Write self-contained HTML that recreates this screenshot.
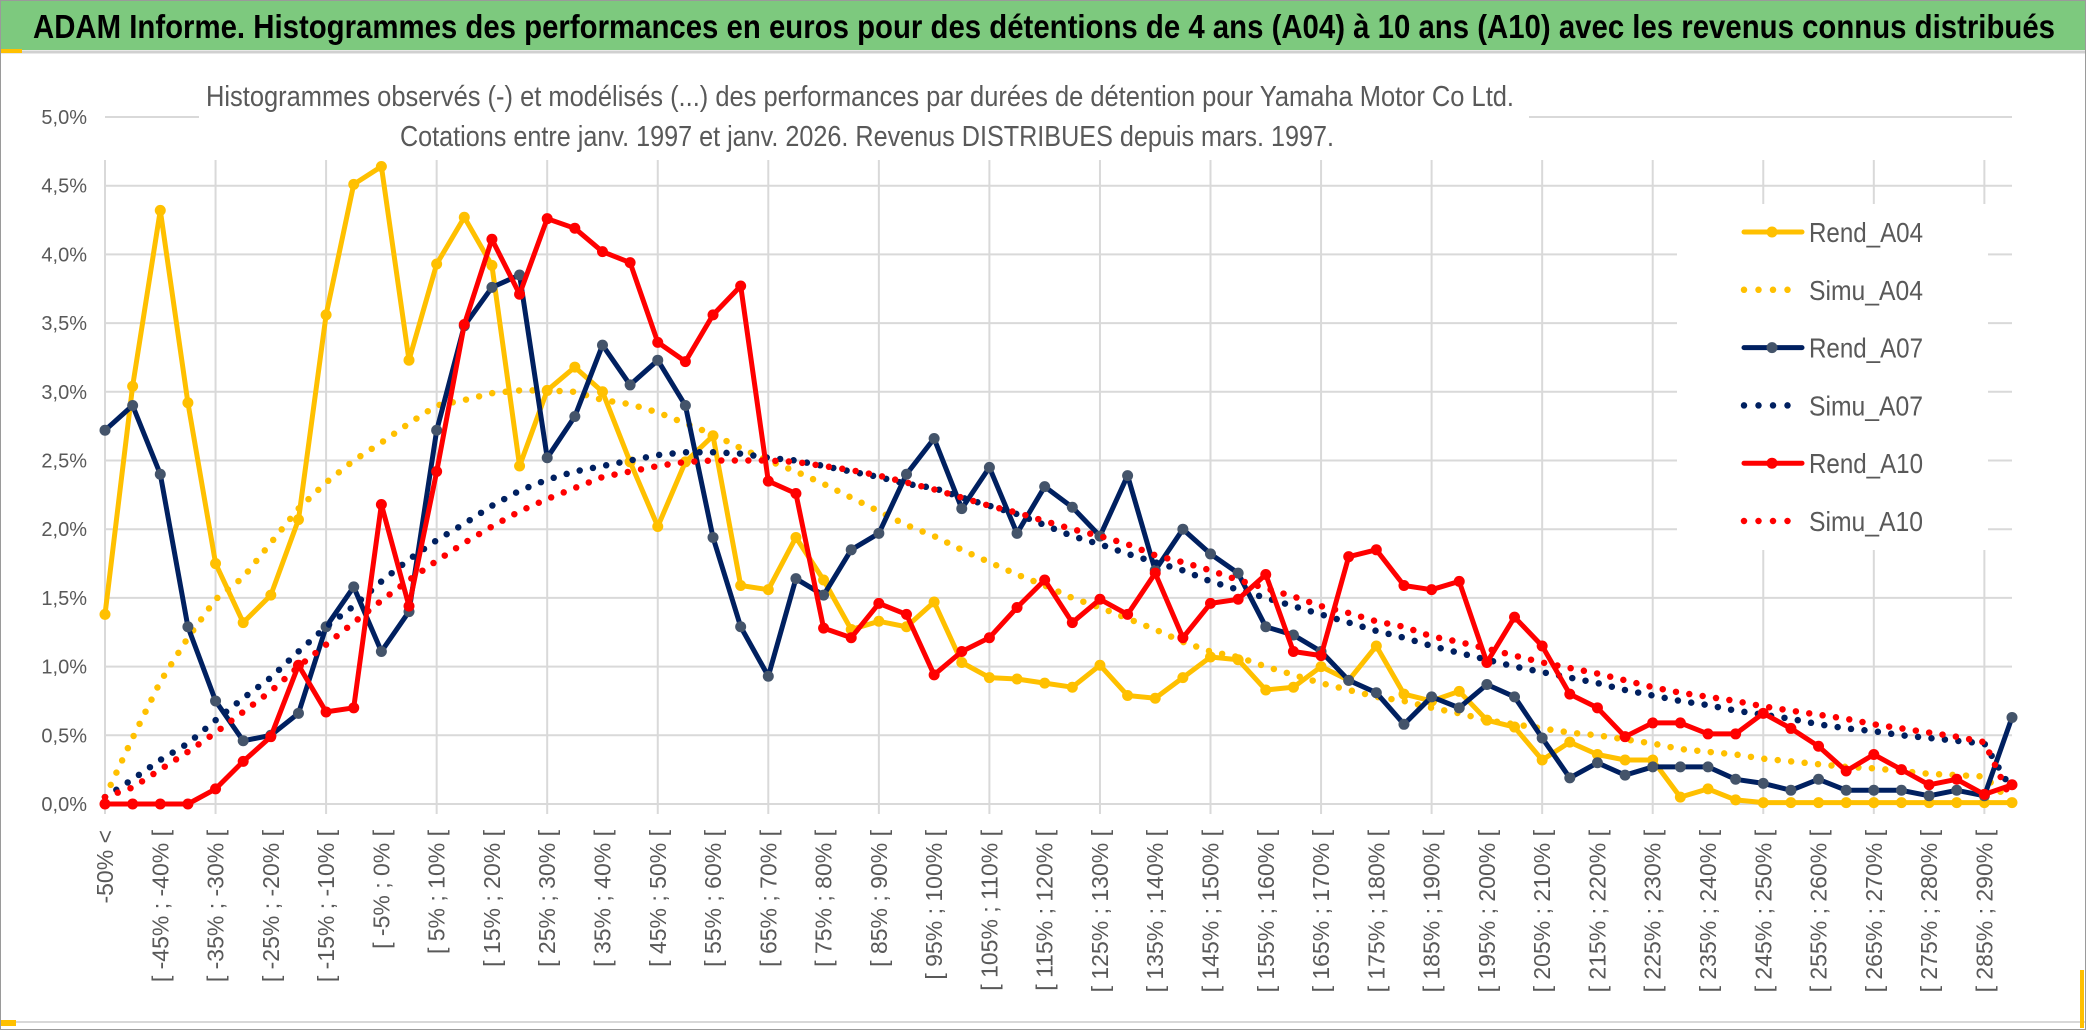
<!DOCTYPE html>
<html><head><meta charset="utf-8">
<style>
html,body{margin:0;padding:0;background:#fff;}
svg{display:block;font-family:"Liberation Sans",Arial,sans-serif;}
</style></head>
<body>
<svg id="chart" width="2086" height="1031" viewBox="0 0 2086 1031" xmlns="http://www.w3.org/2000/svg">
  <rect x="0" y="0" width="2086" height="1031" fill="#ffffff"/>
  <rect x="0" y="0" width="2086" height="50" fill="#7dc97e"/>
  <line x1="0" y1="52" x2="2086" y2="52" stroke="#d0d0d0" stroke-width="3"/>
  <rect x="0" y="49" width="22" height="4" fill="#ffc000"/>
  <text x="33" y="38" font-size="33" font-weight="bold" fill="#000" textLength="2022" lengthAdjust="spacingAndGlyphs">ADAM Informe. Histogrammes des performances en euros pour des détentions de 4 ans (A04) à 10 ans (A10) avec les revenus connus distribués</text>
  <g id="grid"></g>
  <rect x="199" y="60" width="1330" height="100" fill="#ffffff"/>
  <text x="206" y="106" font-size="29" fill="#595959" textLength="1308" lengthAdjust="spacingAndGlyphs">Histogrammes observés (-) et modélisés (...) des performances par durées de détention pour Yamaha Motor Co Ltd.</text>
  <text x="400" y="146" font-size="29" fill="#595959" textLength="934" lengthAdjust="spacingAndGlyphs">Cotations entre janv. 1997 et janv. 2026. Revenus DISTRIBUES depuis mars. 1997.</text>
  <g id="yaxis"></g>
  <g id="xaxis"></g>
  <rect x="1677" y="204" width="311" height="346" fill="#ffffff"/>
  <g id="series"></g>
  <g id="legend"></g>
  <line x1="0" y1="1022" x2="2086" y2="1022" stroke="#d8d8d8" stroke-width="2"/>
  <rect x="0" y="1020" width="16" height="6" fill="#ffc000"/>
  <rect x="2080" y="970" width="4" height="58" fill="#ffc000"/>
  <rect x="0.5" y="0.5" width="2085" height="1029" fill="none" stroke="#9a9a9a" stroke-width="1"/>
</svg>
<script>
const categories = ["-50% <","[ -50% ; -45% [","[ -45% ; -40% [","[ -40% ; -35% [","[ -35% ; -30% [","[ -30% ; -25% [","[ -25% ; -20% [","[ -20% ; -15% [","[ -15% ; -10% [","[ -10% ; -5% [","[ -5% ; 0% [","[ 0% ; 5% [","[ 5% ; 10% [","[ 10% ; 15% [","[ 15% ; 20% [","[ 20% ; 25% [","[ 25% ; 30% [","[ 30% ; 35% [","[ 35% ; 40% [","[ 40% ; 45% [","[ 45% ; 50% [","[ 50% ; 55% [","[ 55% ; 60% [","[ 60% ; 65% [","[ 65% ; 70% [","[ 70% ; 75% [","[ 75% ; 80% [","[ 80% ; 85% [","[ 85% ; 90% [","[ 90% ; 95% [","[ 95% ; 100% [","[ 100% ; 105% [","[ 105% ; 110% [","[ 110% ; 115% [","[ 115% ; 120% [","[ 120% ; 125% [","[ 125% ; 130% [","[ 130% ; 135% [","[ 135% ; 140% [","[ 140% ; 145% [","[ 145% ; 150% [","[ 150% ; 155% [","[ 155% ; 160% [","[ 160% ; 165% [","[ 165% ; 170% [","[ 170% ; 175% [","[ 175% ; 180% [","[ 180% ; 185% [","[ 185% ; 190% [","[ 190% ; 195% [","[ 195% ; 200% [","[ 200% ; 205% [","[ 205% ; 210% [","[ 210% ; 215% [","[ 215% ; 220% [","[ 220% ; 225% [","[ 225% ; 230% [","[ 230% ; 235% [","[ 235% ; 240% [","[ 240% ; 245% [","[ 245% ; 250% [","[ 250% ; 255% [","[ 255% ; 260% [","[ 260% ; 265% [","[ 265% ; 270% [","[ 270% ; 275% [","[ 275% ; 280% [","[ 280% ; 285% [","[ 285% ; 290% [","[ 290% ; 295% ["];
const yTicks = [0,0.5,1,1.5,2,2.5,3,3.5,4,4.5,5];
const yTickLabels = ["0,0%","0,5%","1,0%","1,5%","2,0%","2,5%","3,0%","3,5%","4,0%","4,5%","5,0%"];
const rendA04 = [1.38,3.04,4.32,2.92,1.75,1.32,1.52,2.07,3.56,4.51,4.64,3.23,3.93,4.27,3.92,2.46,3.01,3.18,
 3.0,2.49,2.02,2.49,2.68,1.59,1.56,1.94,1.63,1.27,1.33,1.29,1.47,1.03,0.92,0.91,0.88,0.85,
 1.01,0.79,0.77,0.92,1.07,1.05,0.83,0.85,1.0,0.9,1.15,0.8,0.75,0.82,0.61,0.56,0.32,0.45,
 0.36,0.32,0.32,0.05,0.11,0.03,0.01,0.01,0.01,0.01,0.01,0.01,0.01,0.01,0.01,0.01];
const simuA04 = [0.05,0.48,0.89,1.21,1.49,1.65,1.90,2.15,2.34,2.50,2.63,2.77,2.90,2.94,2.99,3.01,3.01,3.00,
 2.94,2.91,2.85,2.77,2.69,2.59,2.50,2.42,2.33,2.23,2.13,2.03,1.95,1.85,1.76,1.67,1.59,1.50,
 1.43,1.35,1.27,1.18,1.11,1.07,1.00,0.94,0.88,0.83,0.78,0.75,0.70,0.66,0.61,0.58,0.55,0.52,
 0.50,0.47,0.44,0.40,0.38,0.36,0.33,0.31,0.29,0.27,0.26,0.24,0.22,0.21,0.20,0.01];
const rendA07 = [2.72,2.90,2.40,1.29,0.75,0.46,0.50,0.66,1.29,1.58,1.11,1.40,2.72,3.48,3.76,3.85,2.52,2.82,
 3.34,3.05,3.23,2.90,1.94,1.29,0.93,1.64,1.52,1.85,1.97,2.40,2.66,2.15,2.45,1.97,2.31,2.16,
 1.95,2.39,1.70,2.00,1.82,1.68,1.29,1.23,1.11,0.90,0.81,0.58,0.78,0.70,0.87,0.78,0.48,0.19,
 0.30,0.21,0.27,0.27,0.27,0.18,0.15,0.10,0.18,0.10,0.10,0.10,0.06,0.10,0.06,0.63];
const simuA07 = [0.05,0.18,0.32,0.44,0.61,0.77,0.92,1.11,1.29,1.44,1.62,1.78,1.92,2.04,2.17,2.28,2.36,2.42,
 2.46,2.50,2.54,2.56,2.56,2.55,2.52,2.50,2.46,2.42,2.38,2.33,2.30,2.23,2.17,2.11,2.03,1.95,
 1.89,1.82,1.76,1.70,1.62,1.56,1.50,1.44,1.38,1.32,1.26,1.21,1.15,1.10,1.05,1.00,0.96,0.92,
 0.88,0.83,0.79,0.75,0.72,0.68,0.65,0.62,0.58,0.55,0.53,0.50,0.48,0.46,0.44,0.10];
const rendA10 = [0,0,0,0,0.11,0.31,0.49,1.01,0.67,0.70,2.18,1.44,2.42,3.49,4.11,3.71,4.26,4.19,
 4.02,3.94,3.36,3.22,3.56,3.77,2.35,2.26,1.28,1.21,1.46,1.38,0.94,1.11,1.21,1.43,1.63,1.32,
 1.49,1.38,1.68,1.21,1.46,1.49,1.67,1.11,1.08,1.80,1.85,1.59,1.56,1.62,1.03,1.36,1.15,0.80,
 0.70,0.49,0.59,0.59,0.51,0.51,0.66,0.55,0.42,0.24,0.36,0.25,0.14,0.18,0.07,0.14];
const simuA10 = [0.05,0.12,0.25,0.38,0.52,0.67,0.82,1.00,1.16,1.32,1.48,1.63,1.77,1.90,2.02,2.13,2.22,2.30,
 2.38,2.42,2.46,2.49,2.50,2.50,2.50,2.49,2.46,2.43,2.39,2.34,2.29,2.23,2.17,2.12,2.06,2.00,
 1.95,1.89,1.81,1.76,1.70,1.63,1.57,1.51,1.44,1.39,1.33,1.29,1.22,1.18,1.13,1.08,1.03,0.99,
 0.95,0.90,0.85,0.81,0.78,0.75,0.71,0.68,0.65,0.62,0.58,0.55,0.52,0.49,0.45,0.02];
const seriesNames = ["Rend_A04","Simu_A04","Rend_A07","Simu_A07","Rend_A10","Simu_A10"];

const NS = "http://www.w3.org/2000/svg";
const PLOT_L = 105, PLOT_R = 2012, Y0 = 804, YTOP = 117, YMAX = 5;
function xScale(i){ return PLOT_L + i * (PLOT_R - PLOT_L) / (categories.length - 1); }
function yScale(v){ return Y0 - v * (Y0 - YTOP) / YMAX; }
function mk(tag, attrs, parent){ const e = document.createElementNS(NS, tag); for (const k in attrs) e.setAttribute(k, attrs[k]); parent.appendChild(e); return e; }

const grid = document.getElementById('grid');
yTicks.forEach(function(t){
  const l = mk('line', {x1: PLOT_L, x2: PLOT_R, y1: yScale(t), y2: yScale(t), stroke: '#d9d9d9', 'stroke-width': 2}, grid);
  
  
});
categories.forEach(function(c, i){
  if (i % 4 === 0) {
    const l = mk('line', {x1: xScale(i), x2: xScale(i), y1: 160, y2: Y0 + 10, stroke: '#d9d9d9', 'stroke-width': 2}, grid);
    
    
  }
});

const yaxis = document.getElementById('yaxis');
yTicks.forEach(function(t, k){
  const tx = mk('text', {x: 87, y: yScale(t) + 7, 'font-size': 20, fill: '#595959', 'text-anchor': 'end'}, yaxis);
  tx.textContent = yTickLabels[k];
  
  
});

const xaxis = document.getElementById('xaxis');
categories.forEach(function(c, i){
  if (i % 2 === 0) {
    const x = xScale(i) + 8, y = 830;
    const tx = mk('text', {x: x, y: y, 'font-size': 23, fill: '#595959', 'text-anchor': 'end', transform: 'rotate(-90 ' + x + ' ' + y + ')'}, xaxis);
    tx.textContent = c;
    
    
  }
});

const seriesG = document.getElementById('series');
function drawSolid(vals, color, markerFill, name){
  const g = mk('g', {}, seriesG);
  
  
  const pts = vals.map(function(v, i){ return xScale(i).toFixed(1) + ',' + yScale(v).toFixed(1); }).join(' ');
  const pl = mk('polyline', {points: pts, fill: 'none', stroke: color, 'stroke-width': 5, 'stroke-linejoin': 'round'}, g);
  
  
  vals.forEach(function(v, i){
    const c = mk('circle', {cx: xScale(i), cy: yScale(v), r: 5.5, fill: markerFill}, g);
    
    
  });
}
function drawDotted(vals, color, name){
  const pts = vals.map(function(v, i){ return xScale(i).toFixed(1) + ',' + yScale(v).toFixed(1); }).join(' ');
  const pl = mk('polyline', {points: pts, fill: 'none', stroke: color, 'stroke-width': 6.5, 'stroke-linecap': 'round', 'stroke-dasharray': '0 13.5'}, seriesG);
  
  
}
drawSolid(rendA04, '#ffc000', '#ffc000', 'rend-a04');
drawDotted(simuA04, '#ffc000', 'simu-a04');
drawSolid(rendA07, '#002060', '#44546a', 'rend-a07');
drawDotted(simuA07, '#002060', 'simu-a07');
drawSolid(rendA10, '#ff0000', '#ff0000', 'rend-a10');
drawDotted(simuA10, '#ff0000', 'simu-a10');

const legend = document.getElementById('legend');
const legColors = ['#ffc000','#ffc000','#002060','#002060','#ff0000','#ff0000'];
const legMarker = ['#ffc000',null,'#44546a',null,'#ff0000',null];
seriesNames.forEach(function(n, k){
  const y = 232 + k * 57.8;
  const g = mk('g', {}, legend);
  
  
  if (legMarker[k]) {
    mk('line', {x1: 1744, x2: 1802, y1: y, y2: y, stroke: legColors[k], 'stroke-width': 5, 'stroke-linecap': 'round'}, g);
    mk('circle', {cx: 1772, cy: y, r: 5.5, fill: legMarker[k]}, g);
  } else {
    mk('line', {x1: 1744, x2: 1802, y1: y, y2: y, stroke: legColors[k], 'stroke-width': 6.5, 'stroke-linecap': 'round', 'stroke-dasharray': '0 14.5'}, g);
  }
  const t = mk('text', {x: 1809, y: y + 10, 'font-size': 28, fill: '#595959', textLength: 114, lengthAdjust: 'spacingAndGlyphs'}, g);
  t.textContent = n;
});
</script>
</body></html>
